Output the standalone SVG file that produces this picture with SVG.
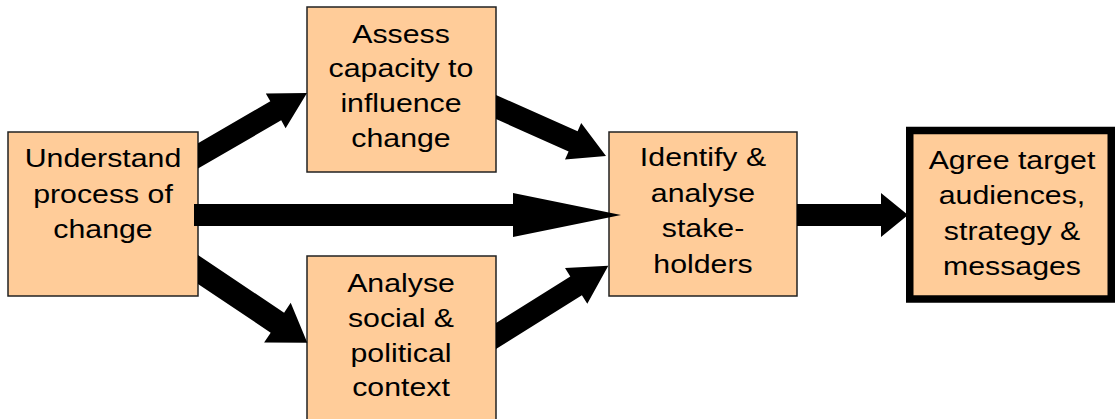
<svg xmlns="http://www.w3.org/2000/svg" width="1118" height="419" viewBox="0 0 1118 419">
  <style>
    .box { fill: #FFCC99; stroke: #222222; stroke-width: 1.5; }
    .box-strong { fill: #FFCC99; stroke: #000000; stroke-width: 7.5; }
    .label { font-family: "Liberation Sans", Arial, sans-serif; font-size: 26px; fill: #000000; text-anchor: middle; }
    .arrow { fill: #000000; stroke: none; }
  </style>
  <rect width="1118" height="419" fill="#FFFFFF"/>

  <!-- Nodes (labels are widened horizontally by the group scale) -->
  <g id="understand">
    <rect class="box" x="8" y="132" width="190" height="164"/>
    <text class="label" transform="translate(103 0) scale(1.165 1)"><tspan x="0" y="167.5">Understand</tspan><tspan x="0" y="203">process of</tspan><tspan x="0" y="238.5">change</tspan></text>
  </g>

  <g id="assess">
    <rect class="box" x="307" y="7" width="189" height="165"/>
    <text class="label" transform="translate(401 0) scale(1.165 1)"><tspan x="0" y="42.7">Assess</tspan><tspan x="0" y="77.3">capacity to</tspan><tspan x="0" y="111.9">influence</tspan><tspan x="0" y="146.6">change</tspan></text>
  </g>

  <g id="analyse-context">
    <rect class="box" x="307" y="256" width="189" height="180"/>
    <text class="label" transform="translate(401 0) scale(1.165 1)"><tspan x="0" y="292.3">Analyse</tspan><tspan x="0" y="327">social &amp;</tspan><tspan x="0" y="361.6">political</tspan><tspan x="0" y="396.3">context</tspan></text>
  </g>

  <g id="stakeholders">
    <rect class="box" x="609" y="132" width="188" height="164"/>
    <text class="label" transform="translate(703 0) scale(1.165 1)"><tspan x="0" y="166">Identify &amp;</tspan><tspan x="0" y="201.7">analyse</tspan><tspan x="0" y="237.4">stake-</tspan><tspan x="0" y="273">holders</tspan></text>
  </g>

  <g id="agree">
    <rect class="box-strong" x="909.75" y="130.5" width="201.5" height="168.5"/>
    <text class="label" transform="translate(1012 0) scale(1.165 1)"><tspan x="0" y="169.3">Agree target</tspan><tspan x="0" y="204.5">audiences,</tspan><tspan x="0" y="239.8">strategy &amp;</tspan><tspan x="0" y="275">messages</tspan></text>
  </g>

  <!-- Connectors: block arrows -->
  <g id="connectors">
    <polygon class="arrow" points="198,168.6 281.2,120.3 285.6,128.2 307,93 265.8,93.4 270.3,101.2 198,143.3"/>
    <polygon class="arrow" points="496,119.1 568.6,151.4 565,159.6 606,156 581.2,123.1 577.6,131.3 496,94.9"/>
    <polygon class="arrow" points="198,284.1 270.7,332.7 264.1,342.6 307.3,342.7 290.7,302.8 284.1,312.7 198,255.1"/>
    <polygon class="arrow" points="496,349 581.9,295.2 587.3,303.7 608.3,265.7 565,268.1 570.3,276.6 496,323.1"/>
    <polygon class="arrow" points="194,204 513,204 513,193 621,215 513,237 513,226 194,226"/>
    <polygon class="arrow" points="797,204 881,204 881,193 908,215 881,237 881,226 797,226"/>
  </g>
</svg>
